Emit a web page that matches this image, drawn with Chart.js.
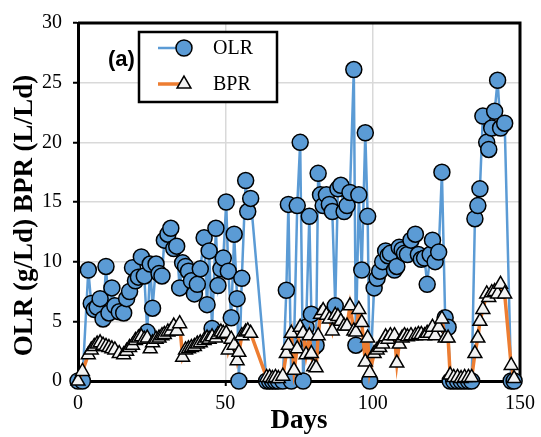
<!DOCTYPE html>
<html>
<head>
<meta charset="utf-8">
<script src="https://cdn.jsdelivr.net/npm/chart.js@4.4.1/dist/chart.umd.min.js"></script>
<style>
  html, body { margin: 0; padding: 0; background: #ffffff; }
  #wrap { width: 541px; height: 437px; }
</style>
</head>
<body>
<div id="wrap"><canvas id="c" width="541" height="437"></canvas></div>
<script>
const seriesNames = ['OLR', 'BPR'];
const xTitle = 'Days';
const yTitle = 'OLR (g/Ld) BPR (L/Ld)    ';
const panelLabel = '(a)';

const days = [0, 1.5, 3.5, 4.5, 5.5, 6.5, 7.5, 8.5, 9.5, 10.5, 11.5, 12.5, 14, 15.5, 16.5, 17.5, 18.5, 19.5, 20.5, 21.5,
  22.5, 23.5, 24.5, 25.3, 26.5, 27.5, 28.5, 29.3, 30.5, 31.5, 32.5, 33.5, 34.5, 35.5, 36.5, 37.5, 38.5, 39.5, 40.5, 41.5,
  42.8, 43.8, 44.5, 45.5, 46.8, 47.5, 48.5, 49.3, 50.3, 51, 52, 53, 54, 54.6, 55.6, 56.9, 57.6, 58.6,
  64, 65, 66, 67, 68, 69.5, 70.7, 71.4, 72.4, 73.3, 74.4, 75.4, 76.4, 77.4, 78.5, 79.2, 80, 80.8, 81.5,
  82.3, 83.2, 84.3, 85.3, 86.3, 87.3, 88.2, 89.2, 90.3, 91.3, 92.3, 93.6, 94.3, 95.3, 96.3, 97.5, 98.3, 99,
  100.5, 101.5, 102.4, 103.4, 104.4, 105.2, 106, 107.4, 108.2, 109, 110, 110.8, 111.8, 113, 114.5, 115.5, 116.5,
  117.6, 118.5, 119.5, 120.3, 121.2, 122.4, 123.5, 124.6, 125.6, 126.3, 127.5, 128.8, 130, 131.2, 132.5, 133.6,
  134.7, 135.7, 136.4, 137.4, 138.7, 139.4, 140.4, 141.4, 142.4, 143.4, 144.8, 147, 148];

const olr = [0, 0, 9.3, 6.5, 6.0, 6.2, 6.9, 5.2, 9.6, 5.7, 7.8, 6.3, 5.8, 5.7, 6.9, 7.5, 9.5, 8.4, 8.7, 10.4,
  8.8, 4.1, 9.8, 6.1, 9.8, 9.0, 8.8, 11.8, 12.3, 12.8, 11.1, 11.3, 7.8, 9.9, 9.6, 9.2, 8.4, 7.3, 8.1, 9.4,
  12.0, 6.4, 10.9, 4.4, 12.8, 8.0, 9.4, 10.3, 15.0, 9.2, 5.3, 12.3, 6.9, 0, 8.6, 16.8, 14.2, 15.3,
  0, 0, 0, 0, 0, 0, 7.6, 14.8, 0, 3.0, 14.7, 20.0, 0, 4.5, 13.8, 5.6, 2.8, 3.0, 17.4,
  15.6, 14.7, 15.6, 14.8, 14.2, 6.3, 16.1, 16.4, 14.2, 14.7, 15.8, 26.1, 3.0, 15.6, 9.3, 20.8, 13.8, 0,
  7.8, 8.6, 9.2, 10.0, 10.9, 10.5, 10.7, 9.3, 9.6, 11.2, 11.0, 10.7, 10.6, 11.8, 12.3, 10.6, 10.2,
  10.3, 8.1, 10.6, 11.8, 10.0, 10.8, 17.5, 5.3, 4.5, 0, 0, 0, 0, 0, 0, 0,
  13.6, 14.7, 16.1, 22.2, 20.0, 19.4, 21.2, 22.6, 25.2, 21.2, 21.6, 0, 0];

const bpr = [0, 0.8, 2.2, 2.6, 2.9, 3.1, 3.2, 3.0, 2.9, 2.8, 2.7, 2.6, 2.3, 2.2, 2.5, 2.8, 3.0, 3.4, 3.6, 3.7,
  3.5, 3.6, 2.7, 3.2, 3.5, 3.6, 3.8, 3.9, 4.1, 4.2, 4.6, 4.2, 4.8, 2.0, 2.6, 2.7, 2.8, 2.9, 3.1, 3.2,
  3.4, 3.6, 3.5, 3.7, 3.6, 3.9, 4.1, 4.0, 4.0, 2.6, 3.5, 3.0, 1.7, 2.4, 3.8, 4.1, 4.2, 4.0,
  0.3, 0.3, 0.2, 0.3, 0.2, 0.4, 2.3, 3.0, 4.0, 0.9, 2.7, 4.5, 4.0, 2.2, 3.8, 2.3, 1.2, 1.1, 3.8,
  5.6, 5.9, 5.5, 5.2, 4.2, 5.5, 5.4, 5.0, 4.6, 4.6, 6.3, 4.2, 4.1, 6.0, 4.9, 1.6, 3.6, 0.7,
  2.3, 2.6, 2.8, 3.1, 3.7, 3.5, 3.8, 3.8, 1.5, 3.1, 3.6, 3.8, 3.7, 3.8, 3.8, 3.9, 3.9,
  3.8, 4.0, 4.0, 4.5, 3.8, 4.5, 5.2, 3.6, 3.6, 0.5, 0.3, 0.3, 0.2, 0.3, 0.3, 0.3,
  2.3, 3.6, 5.0, 6.0, 7.3, 7.0, 7.4, 7.5, 7.3, 8.1, 7.3, 1.3, 0.2];

const xTicks = [0, 50, 100, 150];
const yTicks = [0, 5, 10, 15, 20, 25, 30];

const BLUE = '#5B9BD5';
const ORANGE = '#ED7D31';
const TRI_FILL = '#F2F2F2';
const SERIF = '"Liberation Serif", "Times New Roman", serif';

const toPoints = (vals) => days.map((d, i) => ({ x: d, y: vals[i] }));

const framePlugin = {
  id: 'frame',
  beforeDatasetsDraw(chart) {
    const { ctx, chartArea: a } = chart;
    ctx.save();
    ctx.strokeStyle = '#000';
    ctx.lineWidth = 3;
    ctx.beginPath();
    ctx.moveTo(a.left, a.top);
    ctx.lineTo(a.right, a.top);
    ctx.lineTo(a.right, a.bottom);
    ctx.stroke();
    ctx.restore();
  }
};

const legendPlugin = {
  id: 'customLegend',
  afterDraw(chart) {
    const ctx = chart.ctx;
    ctx.save();
    ctx.fillStyle = '#000';
    ctx.font = 'bold 22px "Liberation Sans", Arial, sans-serif';
    ctx.textAlign = 'left';
    ctx.textBaseline = 'middle';
    ctx.fillText(panelLabel, 108, 60);
    const bx = 139, by = 32, bw = 138, bh = 70;
    ctx.fillStyle = '#fff';
    ctx.fillRect(bx, by, bw, bh);
    ctx.strokeStyle = '#000';
    ctx.lineWidth = 2.5;
    ctx.strokeRect(bx, by, bw, bh);
    const y1 = 48, y2 = 84;
    ctx.strokeStyle = BLUE;
    ctx.lineWidth = 2.5;
    ctx.beginPath(); ctx.moveTo(158, y1); ctx.lineTo(184, y1); ctx.stroke();
    ctx.beginPath(); ctx.arc(184, y1, 8, 0, Math.PI * 2);
    ctx.fillStyle = BLUE; ctx.fill();
    ctx.strokeStyle = '#000'; ctx.lineWidth = 1.5; ctx.stroke();
    ctx.strokeStyle = ORANGE;
    ctx.lineWidth = 3.5;
    ctx.beginPath(); ctx.moveTo(158, y2); ctx.lineTo(184, y2); ctx.stroke();
    const r = 8;
    ctx.beginPath();
    ctx.moveTo(184, y2 - r);
    ctx.lineTo(184 + r * Math.sin(2 * Math.PI / 3), y2 - r * Math.cos(2 * Math.PI / 3));
    ctx.lineTo(184 + r * Math.sin(4 * Math.PI / 3), y2 - r * Math.cos(4 * Math.PI / 3));
    ctx.closePath();
    ctx.fillStyle = TRI_FILL; ctx.fill();
    ctx.strokeStyle = '#000'; ctx.lineWidth = 1.5; ctx.stroke();
    ctx.fillStyle = '#000';
    ctx.font = '20px ' + SERIF;
    ctx.textAlign = 'left';
    ctx.textBaseline = 'middle';
    ctx.fillText(seriesNames[0], 213, y1 + 1);
    ctx.fillText(seriesNames[1], 213, y2 + 1);
    ctx.restore();
  }
};

new Chart(document.getElementById('c'), {
  type: 'line',
  data: {
    datasets: [
      {
        label: seriesNames[1],
        data: toPoints(bpr),
        order: 0,
        borderColor: ORANGE,
        borderWidth: 3.5,
        backgroundColor: TRI_FILL,
        pointStyle: 'triangle',
        pointRadius: 8,
        pointBackgroundColor: TRI_FILL,
        pointBorderColor: '#000',
        pointBorderWidth: 1.5,
        tension: 0,
        clip: false
      },
      {
        label: seriesNames[0],
        data: toPoints(olr),
        order: 1,
        borderColor: BLUE,
        borderWidth: 2.5,
        backgroundColor: BLUE,
        pointStyle: 'circle',
        pointRadius: 8,
        pointBackgroundColor: BLUE,
        pointBorderColor: '#000',
        pointBorderWidth: 1.5,
        tension: 0,
        clip: false
      }
    ]
  },
  options: {
    responsive: false,
    devicePixelRatio: 1,
    animation: false,
    layout: { padding: { top: 19, right: 17, left: 0, bottom: 0 } },
    plugins: { legend: { display: false }, tooltip: { enabled: false } },
    scales: {
      x: {
        type: 'linear',
        min: 0, max: 150,
        afterBuildTicks: (s) => { s.ticks = xTicks.map(v => ({ value: v })); },
        afterFit: (s) => { s.height = 56; },
        ticks: { color: '#000', font: { family: SERIF, size: 20 }, padding: 6, maxRotation: 0 },
        grid: {
          color: (c) => (c.tick && (c.tick.value === 0 || c.tick.value === 150)) ? 'rgba(0,0,0,0)' : '#D9D9D9',
          lineWidth: 1.5,
          tickColor: '#000', tickLength: 5, tickWidth: 2
        },
        border: { display: true, color: '#000', width: 3 },
        title: { display: true, text: xTitle, color: '#000', font: { family: SERIF, size: 27, weight: 'bold' }, padding: { top: 0, bottom: 0 } }
      },
      y: {
        min: 0, max: 30,
        afterBuildTicks: (s) => { s.ticks = yTicks.map(v => ({ value: v })); },
        afterFit: (s) => { s.width = 78; },
        ticks: { color: '#000', font: { family: SERIF, size: 20 }, padding: 11 },
        grid: {
          color: (c) => (c.tick && (c.tick.value === 0 || c.tick.value === 30)) ? 'rgba(0,0,0,0)' : '#D9D9D9',
          lineWidth: 1.5,
          tickColor: '#000', tickLength: 5, tickWidth: 2
        },
        border: { display: true, color: '#000', width: 3 },
        title: { display: true, text: yTitle, color: '#000', font: { family: SERIF, size: 27, weight: 'bold' }, padding: { top: 9, bottom: 0 } }
      }
    }
  },
  plugins: [framePlugin, legendPlugin]
});
</script>
</body>
</html>
